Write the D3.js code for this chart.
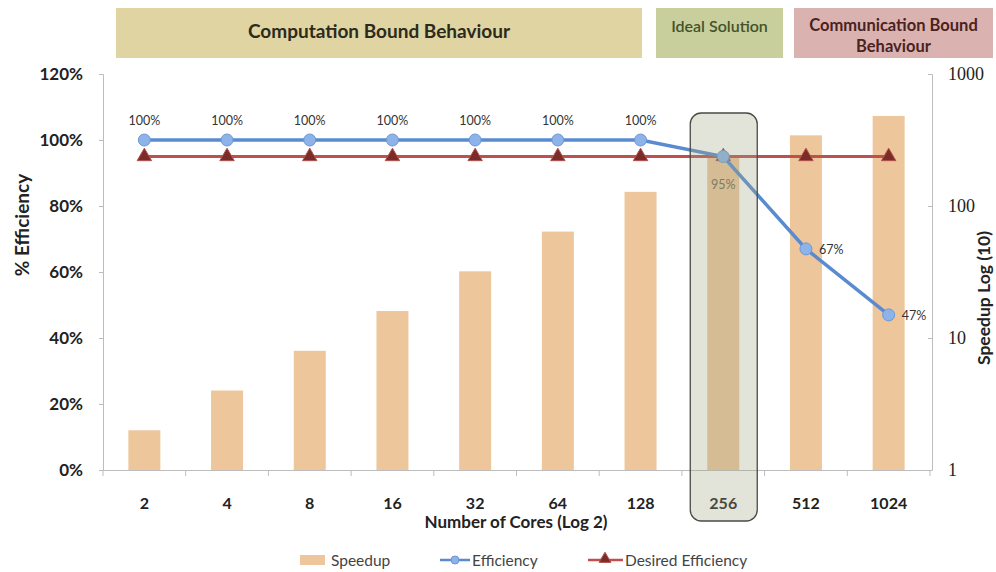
<!DOCTYPE html>
<html>
<head>
<meta charset="utf-8">
<script src="https://cdn.jsdelivr.net/npm/d3@7"></script>
<style>
  html, body { margin: 0; padding: 0; background: #fff; }
  svg { display: block; }
  text { font-family: Lato, "Open Sans", sans-serif; }
</style>
</head>
<body>
<svg id="chart" width="996" height="572"></svg>
<script>
// Scaling study: cores used, measured speedup and parallel efficiency
const cores = ["2", "4", "8", "16", "32", "64", "128", "256", "512", "1024"];
const speedup = [2, 4, 8, 16, 32, 64, 128, 243, 343, 481];
const efficiency = [1.00, 1.00, 1.00, 1.00, 1.00, 1.00, 1.00, 0.95, 0.67, 0.47];
const desiredEfficiency = [0.95, 0.95, 0.95, 0.95, 0.95, 0.95, 0.95, 0.95, 0.95, 0.95];
const efficiencyTicks = [0, 0.2, 0.4, 0.6, 0.8, 1.0, 1.2];
const speedupTicks = [1, 10, 100, 1000];
const highlightCore = "256";
const regions = [
  { label: ["Computation Bound Behaviour"], fill: "#dfd4a2", color: "#2b2a1c", size: 19, weight: 700 },
  { label: ["Ideal Solution"], fill: "#c8cf9c", color: "#44532a", size: 16, weight: 600 },
  { label: ["Communication Bound", "Behaviour"], fill: "#dab3b0", color: "#4a2222", size: 16.5, weight: 700 }
];

const svg = d3.select("#chart");
const plotL = 103, plotR = 930, plotT = 74, plotB = 470;

const x = d3.scaleBand().domain(cores).range([plotL, plotR]);
const yEff = d3.scaleLinear().domain([0, 1.2]).range([plotB, plotT]);
const ySpd = d3.scaleLog().domain([1, 1000]).range([plotB, plotT]);
const cx = c => x(c) + x.bandwidth() / 2;

// Region banners across the top
const bannerX = [[116, 642], [656, 783], [794, 993]];
regions.forEach((r, k) => {
  const [x0, x1] = bannerX[k];
  svg.append("rect").attr("x", x0).attr("y", 8).attr("width", x1 - x0).attr("height", 50)
    .attr("fill", r.fill);
  const t = svg.append("text").attr("text-anchor", "middle")
    .attr("font-size", r.size).attr("font-weight", r.weight)
    .attr("fill", r.color);
  if (r.label.length === 1) {
    t.attr("x", (x0 + x1) / 2).attr("y", k === 0 ? 38 : 32).text(r.label[0]);
  } else {
    r.label.forEach((s, i) => t.append("tspan").attr("x", (x0 + x1) / 2).attr("y", 31 + i * 21).text(s));
  }
});

// Speedup bars on the log axis
const barW = 32;
svg.append("g").selectAll("rect").data(cores).join("rect")
  .attr("x", c => cx(c) - barW / 2)
  .attr("y", (c, i) => ySpd(speedup[i]))
  .attr("width", barW)
  .attr("height", (c, i) => plotB - ySpd(speedup[i]))
  .attr("fill", "#eec69c");

// Axes
const axisColor = "#bdbdbd";
const gL = svg.append("g").attr("transform", `translate(${plotL},0)`)
  .call(d3.axisLeft(yEff).tickValues(efficiencyTicks).tickFormat(d3.format(".0%")).tickSize(4));
gL.select(".domain").attr("stroke", axisColor);
gL.selectAll(".tick line").attr("stroke", axisColor);
gL.selectAll(".tick text").attr("x", -20).attr("font-size", 17).attr("font-weight", 700)
  .attr("fill", "#222").style("font-family", "Lato, sans-serif");

const gR = svg.append("g").attr("transform", `translate(${plotR + 2},0)`)
  .call(d3.axisRight(ySpd).tickValues(speedupTicks).tickFormat(d3.format("d")).tickSize(-4));
gR.select(".domain").attr("stroke", axisColor);
gR.selectAll(".tick line").attr("stroke", axisColor);
gR.selectAll(".tick text").attr("x", 16).attr("font-size", 18)
  .attr("fill", "#222").style("font-family", "'Liberation Serif', serif");

const gB = svg.append("g").attr("transform", `translate(0,${plotB})`)
  .call(d3.axisBottom(x).tickSize(0).tickPadding(28));
gB.select(".domain").attr("stroke", axisColor);
gB.selectAll(".tick text").attr("font-size", 16).attr("font-weight", 700).attr("fill", "#222")
  .style("font-family", "Lato, sans-serif");
// Category separators below the baseline
svg.append("g").selectAll("line").data(d3.range(cores.length + 1)).join("line")
  .attr("x1", i => plotL + i * x.step()).attr("x2", i => plotL + i * x.step())
  .attr("y1", plotB).attr("y2", plotB + 6).attr("stroke", axisColor);

// Axis titles
svg.append("text").attr("transform", "translate(29,225) rotate(-90)")
  .attr("text-anchor", "middle").attr("font-size", 19).attr("font-weight", 700).attr("fill", "#222")
  .text("% Efficiency");
svg.append("text").attr("transform", "translate(990,298) rotate(-90)")
  .attr("text-anchor", "middle").attr("font-size", 17.5).attr("font-weight", 700).attr("fill", "#222")
  .text("Speedup Log (10)");
svg.append("text").attr("x", 516).attr("y", 528).attr("text-anchor", "middle")
  .attr("font-size", 17).attr("font-weight", 700).attr("fill", "#222")
  .text("Number of Cores (Log 2)");

// Desired efficiency line with triangle markers
const lineD = d3.line().x((d, i) => cx(cores[i])).y(d => yEff(d));
svg.append("path").datum(desiredEfficiency).attr("d", lineD)
  .attr("fill", "none").attr("stroke", "#c0504d").attr("stroke-width", 3);
const tri = d3.symbol().type(d3.symbolTriangle).size(90);
svg.append("g").selectAll("path").data(desiredEfficiency).join("path")
  .attr("d", tri)
  .attr("transform", (d, i) => `translate(${cx(cores[i])},${yEff(d)})`)
  .attr("fill", "#7b2c28").attr("stroke", "#b0524c").attr("stroke-width", 1);

// Efficiency line with circular markers
svg.append("path").datum(efficiency).attr("d", lineD)
  .attr("fill", "none").attr("stroke", "#5a8bd0").attr("stroke-width", 3.5);
svg.append("g").selectAll("circle").data(efficiency).join("circle")
  .attr("cx", (d, i) => cx(cores[i])).attr("cy", d => yEff(d)).attr("r", 6)
  .attr("fill", "#8db3e8").attr("stroke", "#6b98d6").attr("stroke-width", 1);

// Efficiency value labels
const fmtPct = d3.format(".0%");
svg.append("g").selectAll("text").data(efficiency).join("text")
  .attr("font-size", 12.5).attr("fill", "#333")
  .each(function (d, i) {
    const t = d3.select(this), px = cx(cores[i]), py = yEff(d);
    if (d >= 1) t.attr("x", px).attr("y", py - 15).attr("text-anchor", "middle");
    else if (cores[i] === highlightCore) t.attr("x", px).attr("y", py + 32).attr("text-anchor", "middle").attr("fill", "#6b6a55");
    else t.attr("x", px + 13).attr("y", py + 5).attr("text-anchor", "start");
  })
  .text(d => fmtPct(d));

// Highlight box around the ideal core count
const hx = cx(highlightCore);
svg.append("rect").attr("x", hx - 33).attr("y", 113).attr("width", 67).attr("height", 408)
  .attr("rx", 11).attr("ry", 11)
  .attr("fill", "rgb(160,165,130)").attr("fill-opacity", 0.3)
  .attr("stroke", "#4a4a44").attr("stroke-width", 1.3);

// Legend
const lg = svg.append("g").attr("font-size", 15.5).attr("fill", "#444");
lg.append("rect").attr("x", 300).attr("y", 555).attr("width", 25).attr("height", 10).attr("fill", "#eec69c");
lg.append("text").attr("x", 331).attr("y", 566).text("Speedup");
lg.append("line").attr("x1", 440).attr("x2", 470).attr("y1", 560).attr("y2", 560)
  .attr("stroke", "#5a8bd0").attr("stroke-width", 2.5);
lg.append("circle").attr("cx", 455).attr("cy", 560).attr("r", 4).attr("fill", "#8db3e8").attr("stroke", "#6b98d6");
lg.append("text").attr("x", 472).attr("y", 566).text("Efficiency");
lg.append("line").attr("x1", 588).attr("x2", 623).attr("y1", 560).attr("y2", 560)
  .attr("stroke", "#c0504d").attr("stroke-width", 2.5);
lg.append("path").attr("d", d3.symbol().type(d3.symbolTriangle).size(60))
  .attr("transform", "translate(605,559)").attr("fill", "#7b2c28").attr("stroke", "#b0524c");
lg.append("text").attr("x", 625).attr("y", 566).text("Desired Efficiency");
</script>
</body>
</html>
